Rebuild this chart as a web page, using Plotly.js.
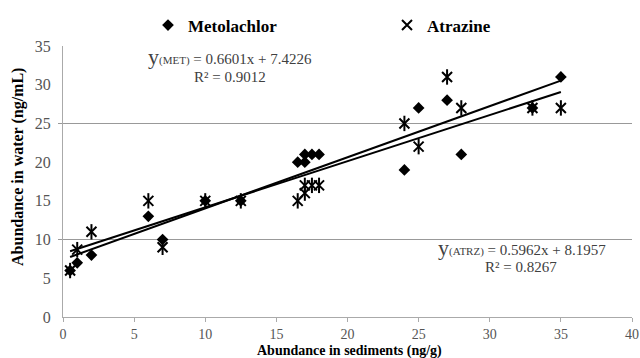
<!DOCTYPE html>
<html>
<head>
<meta charset="utf-8">
<script src="https://cdn.plot.ly/plotly-3.0.1.min.js"></script>
<style>
html,body{margin:0;padding:0;background:#fff}
#chart{width:640px;height:358px}
</style>
</head>
<body>
<div id="chart"></div>
<script>
// Data
const sedimentX = [0.5, 1, 2, 6, 7, 10, 12.5, 16.5, 17, 17, 17.5, 18, 24, 25, 27, 28, 33, 35];
const metolachlorY = [6, 7, 8, 13, 10, 15, 15, 20, 20, 21, 21, 21, 19, 27, 28, 21, 27, 31];
const atrazineY = [6, 8.7, 11, 15, 9, 15, 15, 15, 16, 17, 17, 17, 25, 22, 31, 27, 27, 27];
const seriesNames = ["Metolachlor", "Atrazine"];
const metSlope = 0.6601, metIntercept = 7.4226, metR2 = 0.9012;
const atrzSlope = 0.5962, atrzIntercept = 8.1957, atrzR2 = 0.8267;
const xTicks = [0, 5, 10, 15, 20, 25, 30, 35, 40];
const yTicks = [0, 5, 10, 15, 20, 25, 30, 35];
const yGridVals = [10, 25];
const xTitle = "Abundance in sediments (ng/g)";
const yTitle = "Abundance in water (ng/mL)";

const xMin = Math.min(...sedimentX), xMax = Math.max(...sedimentX);
const trendX = [xMin, xMax];
const metTrendY = trendX.map(x => metSlope * x + metIntercept);
const atrzTrendY = trendX.map(x => atrzSlope * x + atrzIntercept);

const serif = "Liberation Serif, serif";
const L = 63, W = 569, B = 316.7, H = 274; // plot box in px, for placing notes
const px = v => (v - L) / W, py = v => (B - v) / H;

const traces = [
  {x: trendX, y: metTrendY, mode: "lines", line: {color: "#000", width: 2}, showlegend: false, hoverinfo: "skip"},
  {x: trendX, y: atrzTrendY, mode: "lines", line: {color: "#000", width: 2}, showlegend: false, hoverinfo: "skip"},
  {x: sedimentX, y: metolachlorY, name: seriesNames[0], mode: "markers", legendgroup: "met",
   marker: {symbol: "diamond", size: 9, color: "#000"}},
  {x: sedimentX, y: atrazineY, name: seriesNames[1], mode: "markers", legendgroup: "atrz",
   marker: {symbol: "x-thin-open", size: 10, color: "#000", line: {color: "#000", width: 2}}},
  {x: sedimentX, y: atrazineY, name: seriesNames[1], mode: "markers", legendgroup: "atrz", showlegend: false,
   marker: {symbol: "line-ns-open", size: 11, color: "#000", line: {color: "#000", width: 2}}},
  {x: [null], y: [null], yaxis: "y2", mode: "markers", showlegend: false, hoverinfo: "skip"}
];

const eq = (tag, m, b) => "<span style='font-size:22px'>y</span><span style='font-size:11px'>(" + tag + ")</span> = " +
  m.toFixed(4) + "x + " + b.toFixed(4);

const layout = {
  width: 640, height: 358,
  margin: {l: L, r: 8, t: 42, b: 41},
  paper_bgcolor: "#fff", plot_bgcolor: "#fff",
  font: {family: serif, color: "#333"},
  showlegend: true,
  legend: {orientation: "h", x: px(148), xanchor: "left", y: py(22), yanchor: "middle",
           entrywidth: 194, entrywidthmode: "pixels",
           font: {family: serif, size: 17, color: "#000", weight: "bold"}, bgcolor: "rgba(0,0,0,0)"},
  xaxis: {range: [0, 40], tickvals: xTicks, ticktext: xTicks.map(String), showgrid: false, zeroline: false,
          showline: true, linecolor: "#aaa", linewidth: 1, ticks: "outside", ticklen: 4, tickcolor: "#aaa",
          ticklabelstandoff: 0,
          tickfont: {family: serif, size: 14, color: "#555"}},
  yaxis: {range: [0, 35], tickvals: yTicks, ticktext: yTicks.map(String), showgrid: false, zeroline: false,
          showline: true, linecolor: "#aaa", linewidth: 1, ticks: "", ticklen: 0,
          ticklabelstandoff: 8,
          tickfont: {family: serif, size: 16, color: "#555"}},
  yaxis2: {range: [0, 35], overlaying: "y", side: "left", tickvals: yGridVals, showticklabels: false,
           showgrid: true, gridcolor: "#999", gridwidth: 1, zeroline: false, showline: false,
           ticks: "outside", ticklen: 4, tickcolor: "#999"},
  annotations: [
    {xref: "paper", yref: "paper", x: px(349), y: py(351), xanchor: "center", yanchor: "middle", showarrow: false,
     text: "<b>" + xTitle + "</b>", font: {family: serif, size: 14, color: "#000"}},
    {xref: "paper", yref: "paper", x: px(18), y: py(165), xanchor: "center", yanchor: "middle", showarrow: false,
     textangle: -90, text: "<b>" + yTitle + "</b>", font: {family: serif, size: 16, color: "#000"}},
    {xref: "paper", yref: "paper", x: px(230), y: py(53), xanchor: "center", yanchor: "middle", showarrow: false,
     text: eq("MET", metSlope, metIntercept), font: {family: serif, size: 15, color: "#404040"}},
    {xref: "paper", yref: "paper", x: px(230), y: py(74), xanchor: "center", yanchor: "middle", showarrow: false,
     text: "R² = " + metR2.toFixed(4), font: {family: serif, size: 15, color: "#404040"}},
    {xref: "paper", yref: "paper", x: px(522), y: py(246), xanchor: "center", yanchor: "middle", showarrow: false,
     text: eq("ATRZ", atrzSlope, atrzIntercept), font: {family: serif, size: 15, color: "#404040"}},
    {xref: "paper", yref: "paper", x: px(521), y: py(266), xanchor: "center", yanchor: "middle", showarrow: false,
     text: "R² = " + atrzR2.toFixed(4), font: {family: serif, size: 15, color: "#404040"}}
  ]
};

Plotly.newPlot("chart", traces, layout, {displayModeBar: false, staticPlot: true});
</script>
</body>
</html>
